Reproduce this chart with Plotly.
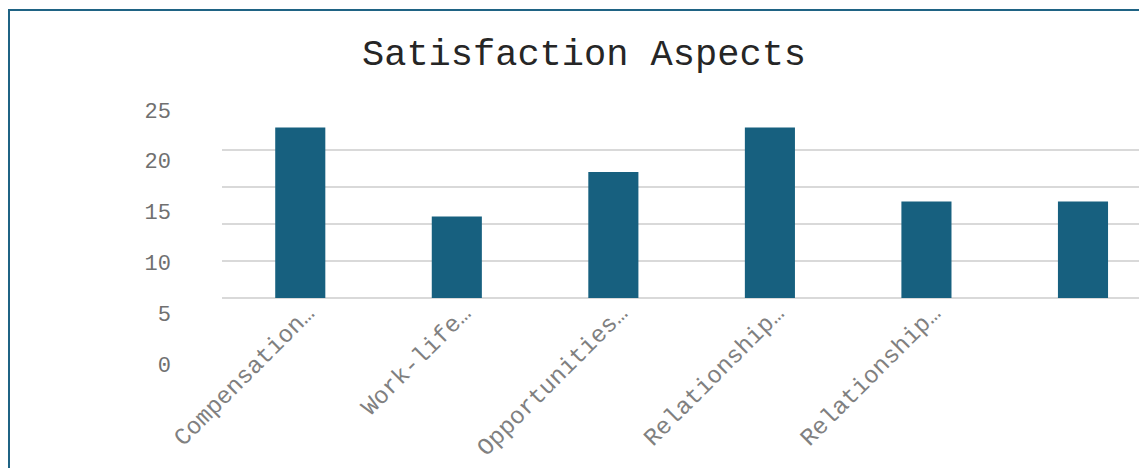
import plotly.graph_objects as go

categories = ["Compensation and benefits", "Work-life balance", "Opportunities for growth",
              "Relationship with manager", "Relationship with colleagues", "Job security"]
tick_labels = ["Compensation…", "Work-life…", "Opportunities…", "Relationship…", "Relationship…", ""]
values = [23, 11, 17, 23, 13, 13]
y_tick_values = [0, 5, 10, 15, 20, 25]
y_tick_labels = ["0", "5", "10", "15", "20", "25"]
title_text = "Satisfaction Aspects"

FONT = "Courier New, Liberation Mono, monospace"
BAR = "#17607f"
GRID = "#d9d9d9"

# plot area in figure pixels
L, T, B = 214, 92, 372
PW, PH = 1147 - L, B - T

fig = go.Figure()
fig.add_trace(go.Bar(x=categories, y=values, marker=dict(color=BAR, line=dict(width=0)),
                     width=0.32, hoverinfo="x+y", showlegend=False))
# invisible helper trace so that the label axis (y2) is drawn
fig.add_trace(go.Scatter(x=categories, y=[None] * len(categories), yaxis="y2",
                         mode="markers", showlegend=False, hoverinfo="skip"))

fig.update_layout(
    width=1147, height=468,
    margin=dict(l=L, r=0, t=T, b=468 - B),
    paper_bgcolor="white", plot_bgcolor="rgba(0,0,0,0)",
    font=dict(family=FONT, color="#6b6b6b"),
    title=dict(text=title_text, x=0.5022, xref="container", y=1 - 44 / 468, yref="container",
               xanchor="center", yanchor="middle",
               font=dict(family=FONT, size=37, color="#262626")),
    xaxis=dict(type="category", range=[-0.5, 5.46], tickvals=categories, ticktext=tick_labels,
               tickangle=-45, tickfont=dict(size=24, color="#808080"), showgrid=False,
               showline=False, zeroline=False, ticks="", anchor="y",
               ticklabelshift=7, ticklabelstandoff=-5),
    yaxis=dict(domain=[(B - 290) / PH, (B - 112) / PH], range=[0, 24], dtick=5,
               showticklabels=False, showgrid=True, gridcolor=GRID, gridwidth=2,
               zeroline=True, zerolinecolor=GRID, zerolinewidth=2, showline=False, ticks=""),
    yaxis2=dict(domain=[0, 1], range=[-1.575, 25.98], tickvals=y_tick_values, ticktext=y_tick_labels,
                anchor="free", position=0, showgrid=False, zeroline=False, showline=False,
                ticks="", ticklabelstandoff=51, tickfont=dict(size=22, color="#707070")),
    shapes=[dict(type="rect", xref="paper", yref="paper",
                 x0=(1 - L) / PW, x1=1.05, y0=-0.4, y1=(B - 2) / PH,
                 line=dict(color="#1f6384", width=2), fillcolor="rgba(0,0,0,0)", layer="above")],
)

fig.write_html("out.html")
